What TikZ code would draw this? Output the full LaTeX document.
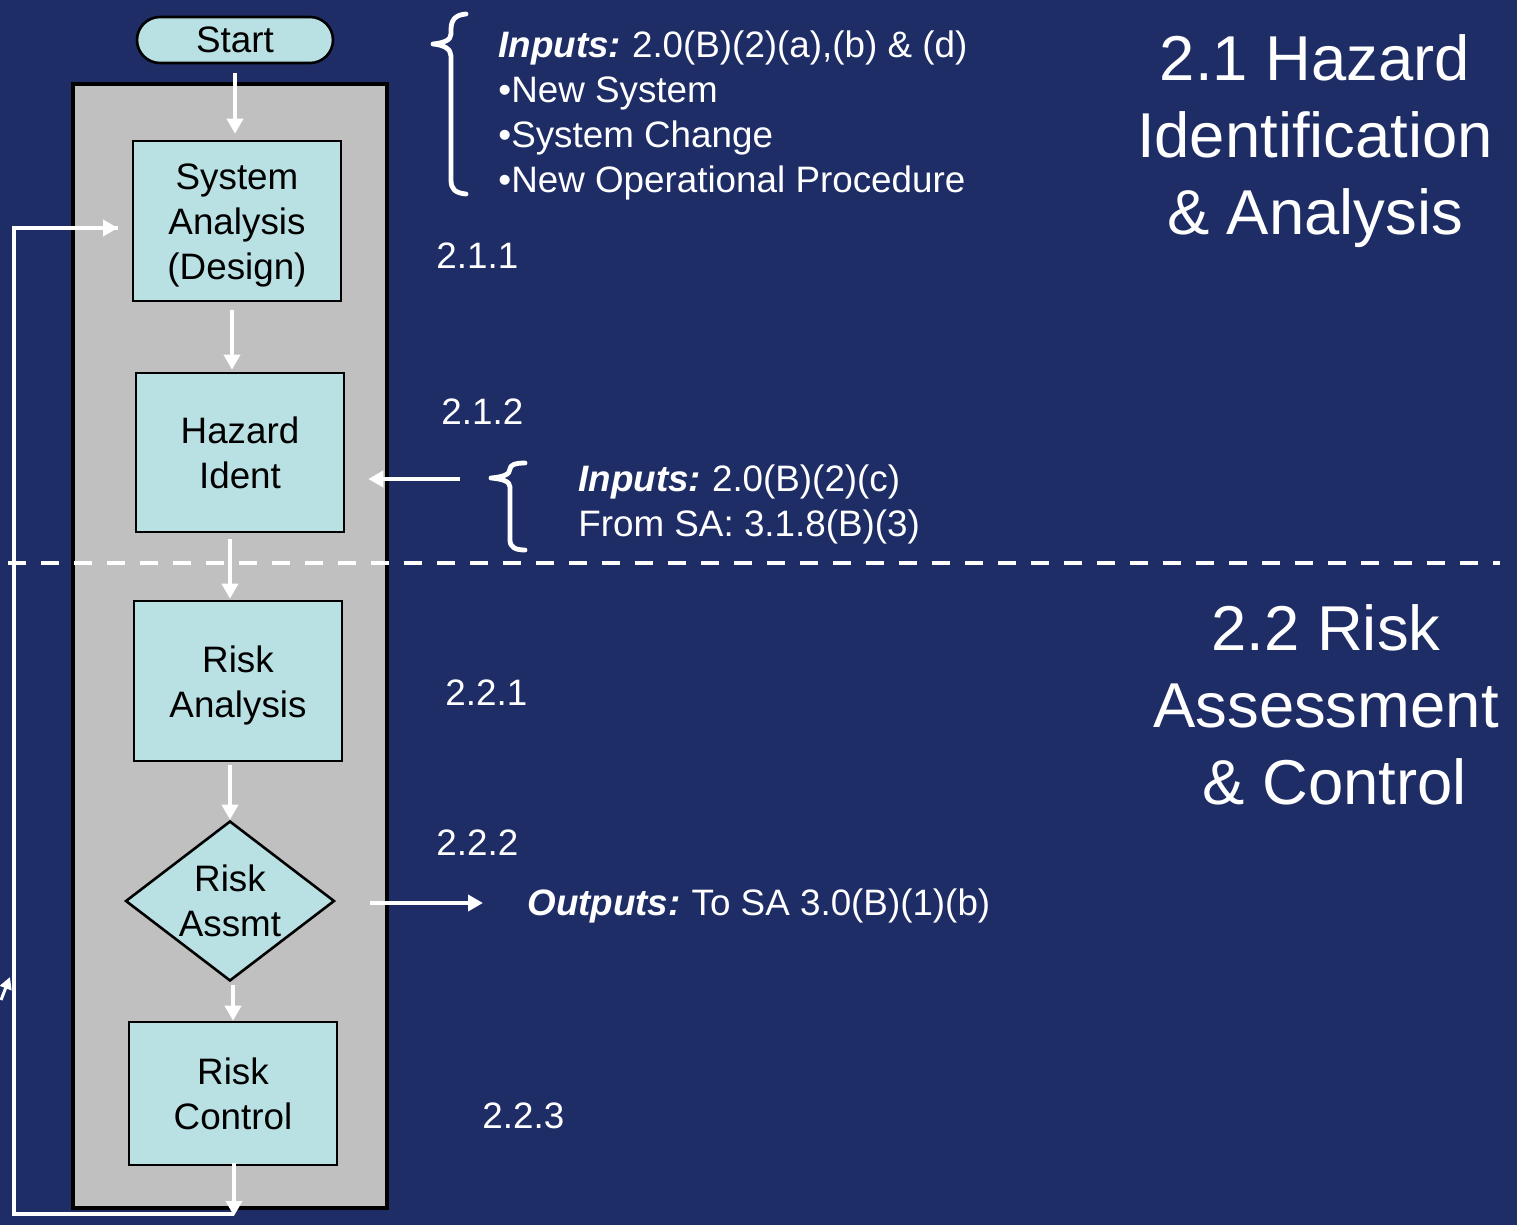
\documentclass[tikz,border=0pt]{standalone}
\usepackage{fontspec}
\setmainfont{Liberation Sans}
\usetikzlibrary{arrows.meta,shapes.geometric}
\definecolor{navy}{RGB}{31,45,103}
\definecolor{panel}{RGB}{192,192,192}
\definecolor{cyanbox}{RGB}{185,224,227}
\newcommand\bodysize{\fontsize{18.4pt}{22.5pt}\selectfont}
\newcommand\headsize{\fontsize{31.7pt}{38.5pt}\selectfont}
% lower a line of text without changing its box
\newcommand\dn[1]{\raisebox{-2.2pt}[\height][\depth]{#1}}
\newcommand\lbl[1]{\textbf{\textit{#1}}\hspace{5.5pt}}

\begin{document}
\begin{tikzpicture}[x=0.5pt,y=-0.5pt,
  stepbox/.style={draw=black, line width=1.3pt, fill=cyanbox, align=center,
    inner sep=0pt, font=\bodysize, text=black},
  framebox/.style={draw=black, line width=1.6pt, fill=panel, inner sep=0pt},
  arr/.style={draw=white, line width=2.3pt, -{Triangle[width=8pt,length=7.5pt]}},
  wline/.style={draw=white, line width=2pt},
  brace/.style={draw=white, line width=2.4pt, line cap=round, line join=round},
  note/.style={text=white, font=\bodysize, align=left, inner sep=0pt, anchor=west},
  head/.style={text=white, font=\headsize, align=center, inner sep=0pt}]

% canvas
\useasboundingbox (0,0) rectangle (1517,1225);
\fill[navy] (0,0) rectangle (1517,1225);

% grey process frame
\node[framebox, minimum width=157pt, minimum height=562pt] (frame) at (230,646) {};

% section divider
\coordinate (dl) at (8,563);
\coordinate (dr) at (1500,563);
\draw[white, line width=2pt, dash pattern=on 9pt off 7.5pt] (dl) -- (dr);

% process steps
\node[stepbox, rounded corners=11.5pt, minimum width=98pt, minimum height=23pt] (start) at (235,40) {Start};
\node[stepbox, minimum width=104pt, minimum height=80pt] (sa) at (237,221) {\dn{System}\\\dn{Analysis}\\\dn{(Design)}};
\node[stepbox, minimum width=104pt, minimum height=79.5pt] (hi) at (240,452.5) {Hazard\\Ident};
\node[stepbox, minimum width=104pt, minimum height=80pt] (ra) at (238,681) {\dn{Risk}\\\dn{Analysis}};
\node[diamond, draw=black, line width=1.3pt, fill=cyanbox, inner sep=0pt,
  minimum width=104.5pt, minimum height=80pt] (ras) at (230,901) {};
\node[font=\bodysize, align=center, inner sep=0pt] (rastext) at (ras.center) {Risk\\Assmt};
\node[stepbox, minimum width=104pt, minimum height=71.5pt] (rc) at (233,1093.5) {Risk\\Control};

% flow arrows
\draw[arr, shorten <=4.5pt, shorten >=3pt] (start.south) -- (start.south |- sa.north);
\draw[arr] ([xshift=-2.5pt,yshift=-4pt]sa.south) -- ([xshift=-4pt,yshift=1pt]hi.north);
\draw[arr] ([xshift=-5pt,yshift=-3pt]hi.south) -- ([xshift=-4pt,yshift=0.5pt]ra.north);
\draw[arr] ([xshift=-4pt,yshift=-1.5pt]ra.south) -- (ras.north);
\draw[arr] ([xshift=1.5pt,yshift=-1.5pt]ras.south) -- (rc.north);

% feedback loop back to system analysis
\coordinate (lb) at (234,1216);
\coordinate (cbl) at (14,1214);
\coordinate (ctl) at (14,228);
\coordinate (fb) at (118,228);
\draw[arr] ([xshift=0.5pt,yshift=1.5pt]rc.south) -- (lb);
\draw[wline, line join=miter] (lb |- cbl) -- (cbl) -- (ctl) -- (fb);
\draw[arr] (ctl) -- (fb);
\coordinate (stuba) at (1,1000);
\coordinate (stubb) at (10,977);
\draw[draw=white, line width=1.5pt, -{Triangle[width=6pt,length=6pt]}] (stuba) -- (stubb);

% side inputs and outputs
\coordinate (hin) at (460,479);
\draw[arr, shorten >=11.5pt] (hin) -- (hin -| hi.east);
\coordinate (outp) at (483,903);
\draw[arr, shorten <=17pt] (ras.east |- outp) -- (outp);

% braces
\draw[brace] (466,14) .. controls (455,15) and (451,20) .. (451,30) -- (451,34)
  .. controls (451,40) and (444,43) .. (433,44)
  .. controls (444,45) and (451,49) .. (451,56) -- (451,180)
  .. controls (451,189) and (455,193) .. (466,194);
\draw[brace] (525,463) .. controls (515,463) and (510,465) .. (510,469)
  .. controls (510,475) and (502,477) .. (491,478)
  .. controls (502,479) and (510,481) .. (510,487) -- (510,540)
  .. controls (510,547) and (515,550) .. (525,550);

% annotations
\node[note] (in1) at (498,115.5) {\lbl{Inputs:}2.0(B)(2)(a),(b) \& (d)\\
  \textbullet New System\\ \textbullet System Change\\ \textbullet New Operational Procedure};
\node[note] (in2) at (578,504) {\lbl{Inputs:}2.0(B)(2)(c)\\From SA: 3.1.8(B)(3)};
\node[note] (out1) at (527,906) {\lbl{Outputs:}To SA 3.0(B)(1)(b)};

% step numbers
\node[note] (n211) at (436,256) {2.1.1};
\node[note] (n212) at (441,412) {2.1.2};
\node[note] (n221) at (445,693) {2.2.1};
\node[note] (n222) at (436,843) {2.2.2};
\node[note] (n223) at (482,1116) {2.2.3};

% section headings
\node[head] (h21) at (1315,141.5) {2.1 Hazard\\Identification\\\& Analysis};
\node[head] (h22) at (1326,705) {2.2 Risk\\Assessment\\\hspace*{9pt}\& Control};
\end{tikzpicture}
\end{document}
